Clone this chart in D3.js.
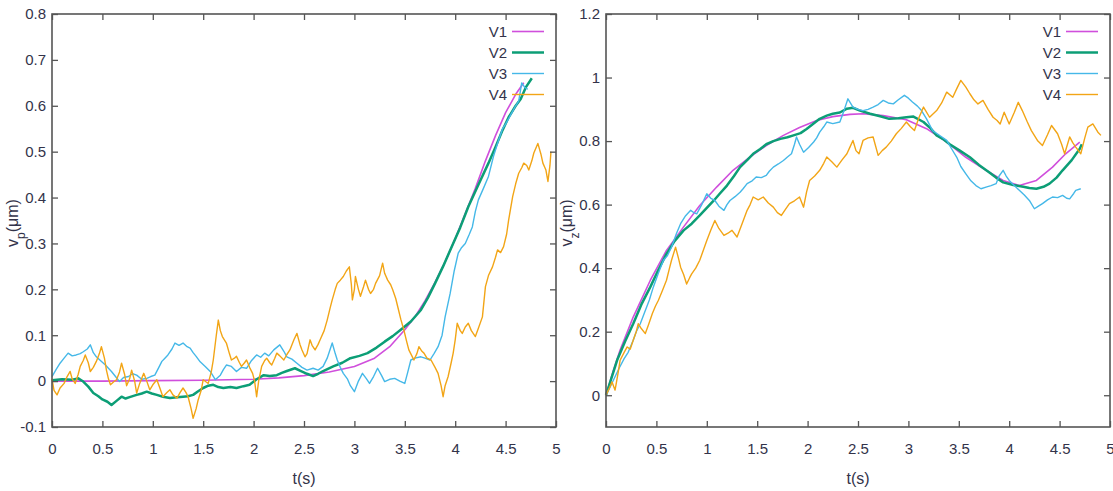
<html>
<head>
<title>vp and vz against time</title>
<style>
  body { margin: 0; background: #fff; }
  text { font-family: "Liberation Sans Narrow", "Liberation Sans", Arial, sans-serif; fill: #33334a; }
</style>
</head>
<body>
<svg></svg>
<script src="https://d3js.org/d3.v7.min.js"></script>
<script>
// ---- data, [t (s), value (um)] ----
var seriesNames = ["V1", "V2", "V3", "V4"];
var seriesColors = ["#d04fdc", "#0c9e76", "#45b8e8", "#f2a516"];
var seriesWidths = [1.6, 2.5, 1.4, 1.4];

var xTicks = [0, 0.5, 1, 1.5, 2, 2.5, 3, 3.5, 4, 4.5, 5];
var vpTicks = [-0.1, 0, 0.1, 0.2, 0.3, 0.4, 0.5, 0.6, 0.7, 0.8];
var vzTicks = [0, 0.2, 0.4, 0.6, 0.8, 1, 1.2];

var vpV1 = [[0,0],[0.5,0],[1,0.001],[1.5,0.002],[2,0.004],[2.25,0.007],[2.5,0.012],[2.75,0.02],[3,0.032],[3.2,0.05],[3.35,0.075],[3.5,0.112],[3.6,0.14],[3.7,0.175],[3.8,0.215],[3.9,0.26],[4,0.31],[4.1,0.365],[4.2,0.42],[4.3,0.48],[4.4,0.535],[4.5,0.585],[4.6,0.625],[4.68,0.65]];

var vpV2 = [[0,0.002],[0.1,0.004],[0.2,0.003],[0.26,0.006],[0.31,-0.001],[0.36,-0.012],[0.41,-0.026],[0.46,-0.033],[0.5,-0.04],[0.55,-0.045],[0.59,-0.052],[0.64,-0.043],[0.69,-0.034],[0.73,-0.038],[0.77,-0.035],[0.84,-0.03],[0.89,-0.027],[0.94,-0.023],[0.99,-0.027],[1.04,-0.03],[1.1,-0.034],[1.17,-0.037],[1.24,-0.035],[1.3,-0.034],[1.35,-0.033],[1.4,-0.03],[1.45,-0.022],[1.5,-0.015],[1.55,-0.01],[1.6,-0.008],[1.65,-0.013],[1.7,-0.015],[1.77,-0.013],[1.83,-0.015],[1.9,-0.011],[1.96,-0.008],[2.03,0.004],[2.1,0.013],[2.16,0.011],[2.23,0.013],[2.28,0.018],[2.33,0.022],[2.41,0.028],[2.47,0.022],[2.53,0.016],[2.59,0.011],[2.64,0.016],[2.69,0.022],[2.79,0.032],[2.88,0.04],[2.96,0.05],[3.05,0.055],[3.13,0.061],[3.22,0.073],[3.3,0.086],[3.38,0.098],[3.46,0.112],[3.56,0.13],[3.66,0.155],[3.73,0.182],[3.8,0.213],[3.88,0.25],[3.96,0.29],[4.05,0.335],[4.13,0.38],[4.23,0.428],[4.33,0.475],[4.4,0.51],[4.47,0.547],[4.53,0.575],[4.6,0.6],[4.65,0.615],[4.7,0.64],[4.76,0.66]];

var vpV3 = [[0,0.01],[0.04,0.025],[0.08,0.039],[0.12,0.05],[0.16,0.061],[0.2,0.055],[0.24,0.057],[0.28,0.06],[0.31,0.064],[0.35,0.07],[0.38,0.079],[0.41,0.062],[0.44,0.053],[0.48,0.045],[0.53,0.035],[0.56,0.028],[0.59,0.021],[0.63,0.01],[0.67,-0.001],[0.71,0.008],[0.76,0.01],[0.8,0.016],[0.84,0.013],[0.89,0.004],[0.94,0.006],[0.98,0.01],[1.02,0.013],[1.06,0.03],[1.09,0.043],[1.12,0.05],[1.15,0.057],[1.19,0.07],[1.22,0.083],[1.26,0.078],[1.3,0.083],[1.34,0.075],[1.37,0.072],[1.4,0.062],[1.43,0.054],[1.47,0.042],[1.52,0.032],[1.57,0.021],[1.62,0.003],[1.67,0.013],[1.7,0.025],[1.73,0.035],[1.78,0.032],[1.83,0.021],[1.88,0.03],[1.93,0.028],[1.98,0.045],[2.03,0.057],[2.07,0.052],[2.11,0.061],[2.15,0.055],[2.2,0.068],[2.26,0.079],[2.3,0.065],[2.33,0.053],[2.38,0.048],[2.43,0.039],[2.48,0.03],[2.53,0.024],[2.59,0.028],[2.64,0.024],[2.69,0.032],[2.73,0.05],[2.78,0.083],[2.81,0.06],[2.83,0.046],[2.86,0.03],[2.89,0.017],[2.93,0.005],[2.96,-0.01],[3,-0.023],[3.04,0],[3.08,0.017],[3.12,0.005],[3.15,-0.005],[3.19,0.01],[3.23,0.028],[3.27,0.012],[3.3,-0.001],[3.35,0.004],[3.4,0.006],[3.45,0],[3.5,-0.005],[3.53,0.02],[3.56,0.046],[3.6,0.05],[3.66,0.053],[3.7,0.05],[3.75,0.046],[3.79,0.06],[3.83,0.075],[3.87,0.1],[3.9,0.14],[3.95,0.191],[3.99,0.24],[4.03,0.279],[4.06,0.29],[4.1,0.3],[4.14,0.32],[4.17,0.336],[4.2,0.37],[4.23,0.395],[4.28,0.42],[4.33,0.446],[4.38,0.49],[4.43,0.525],[4.47,0.55],[4.5,0.56],[4.55,0.58],[4.6,0.6],[4.63,0.61],[4.66,0.65],[4.69,0.64],[4.72,0.636]];

var vpV4 = [[0,0.005],[0.02,-0.02],[0.05,-0.03],[0.08,-0.015],[0.12,-0.005],[0.15,0.01],[0.18,0.021],[0.2,0.005],[0.23,-0.005],[0.26,0.015],[0.28,0.032],[0.31,0.045],[0.33,0.057],[0.36,0.04],[0.38,0.021],[0.41,0.03],[0.44,0.043],[0.47,0.06],[0.49,0.075],[0.52,0.05],[0.54,0.024],[0.56,0.005],[0.58,-0.008],[0.61,-0.002],[0.64,0.003],[0.67,0.02],[0.69,0.039],[0.72,0.015],[0.74,-0.01],[0.77,0.005],[0.79,0.024],[0.82,0],[0.84,-0.026],[0.87,-0.005],[0.91,0.017],[0.94,0],[0.97,-0.019],[1,-0.008],[1.04,0.003],[1.07,-0.015],[1.1,-0.034],[1.14,-0.025],[1.17,-0.019],[1.2,-0.03],[1.24,-0.037],[1.27,-0.025],[1.3,-0.015],[1.33,-0.025],[1.35,-0.034],[1.38,-0.06],[1.4,-0.081],[1.43,-0.06],[1.45,-0.041],[1.48,-0.02],[1.5,0.003],[1.53,-0.002],[1.55,-0.005],[1.58,0.02],[1.6,0.046],[1.63,0.1],[1.65,0.133],[1.67,0.11],[1.69,0.097],[1.71,0.09],[1.73,0.083],[1.76,0.06],[1.78,0.046],[1.81,0.05],[1.83,0.054],[1.86,0.04],[1.88,0.032],[1.91,0.04],[1.93,0.046],[1.96,0.03],[1.99,0.017],[2.01,0],[2.03,-0.034],[2.05,0],[2.08,0.032],[2.11,0.045],[2.13,0.05],[2.16,0.04],[2.18,0.035],[2.21,0.05],[2.23,0.061],[2.26,0.055],[2.3,0.046],[2.33,0.058],[2.36,0.068],[2.4,0.09],[2.43,0.104],[2.46,0.08],[2.48,0.068],[2.51,0.053],[2.53,0.06],[2.56,0.09],[2.58,0.078],[2.61,0.068],[2.64,0.08],[2.66,0.09],[2.7,0.11],[2.73,0.133],[2.76,0.16],[2.78,0.177],[2.81,0.2],[2.83,0.213],[2.86,0.22],[2.89,0.228],[2.92,0.24],[2.95,0.249],[2.97,0.21],[2.98,0.177],[3,0.2],[3.01,0.228],[3.04,0.2],[3.06,0.185],[3.09,0.205],[3.11,0.22],[3.14,0.2],[3.16,0.191],[3.19,0.2],[3.21,0.213],[3.25,0.23],[3.28,0.257],[3.3,0.235],[3.33,0.22],[3.36,0.21],[3.38,0.199],[3.41,0.18],[3.43,0.162],[3.46,0.135],[3.49,0.112],[3.52,0.085],[3.54,0.068],[3.57,0.055],[3.59,0.046],[3.62,0.06],[3.64,0.075],[3.67,0.065],[3.69,0.061],[3.72,0.05],[3.76,0.046],[3.8,0.03],[3.83,0.017],[3.86,-0.01],[3.88,-0.034],[3.9,-0.01],[3.93,0.01],[3.96,0.04],[3.98,0.061],[4,0.09],[4.02,0.126],[4.05,0.11],[4.07,0.104],[4.1,0.118],[4.13,0.126],[4.16,0.11],[4.2,0.097],[4.23,0.115],[4.27,0.14],[4.3,0.206],[4.33,0.23],[4.37,0.249],[4.4,0.27],[4.42,0.286],[4.45,0.28],[4.48,0.293],[4.51,0.32],[4.53,0.351],[4.57,0.402],[4.6,0.43],[4.63,0.453],[4.66,0.465],[4.68,0.475],[4.71,0.47],[4.73,0.46],[4.76,0.48],[4.78,0.497],[4.82,0.518],[4.85,0.495],[4.87,0.475],[4.9,0.46],[4.92,0.435],[4.94,0.47],[4.95,0.5]];

var vzV1 = [[0,0],[0.07,0.075],[0.14,0.142],[0.27,0.246],[0.44,0.362],[0.6,0.456],[0.77,0.53],[0.93,0.597],[1.1,0.656],[1.26,0.708],[1.43,0.75],[1.59,0.786],[1.76,0.818],[1.92,0.843],[2.09,0.865],[2.25,0.877],[2.42,0.884],[2.55,0.886],[2.75,0.88],[2.98,0.867],[3.18,0.839],[3.38,0.797],[3.57,0.749],[3.77,0.708],[3.94,0.676],[4.1,0.66],[4.27,0.676],[4.43,0.718],[4.56,0.76],[4.7,0.797]];

var vzV2 = [[0,0],[0.05,0.05],[0.11,0.11],[0.19,0.17],[0.27,0.225],[0.35,0.285],[0.44,0.341],[0.52,0.395],[0.6,0.445],[0.68,0.485],[0.77,0.519],[0.85,0.54],[0.93,0.566],[1,0.59],[1.07,0.613],[1.13,0.635],[1.2,0.66],[1.27,0.69],[1.33,0.718],[1.4,0.74],[1.46,0.76],[1.53,0.775],[1.59,0.79],[1.66,0.8],[1.73,0.807],[1.8,0.812],[1.86,0.818],[1.93,0.825],[1.99,0.838],[2.06,0.855],[2.12,0.87],[2.19,0.88],[2.25,0.886],[2.32,0.89],[2.39,0.902],[2.45,0.905],[2.52,0.896],[2.62,0.886],[2.72,0.878],[2.81,0.87],[2.9,0.872],[2.98,0.875],[3.05,0.877],[3.15,0.86],[3.22,0.84],[3.28,0.818],[3.35,0.805],[3.41,0.79],[3.51,0.77],[3.61,0.749],[3.7,0.725],[3.8,0.702],[3.87,0.685],[3.94,0.67],[4.04,0.662],[4.14,0.656],[4.2,0.652],[4.27,0.65],[4.34,0.656],[4.4,0.666],[4.47,0.685],[4.53,0.708],[4.62,0.74],[4.7,0.776],[4.72,0.79]];

var vzV3 = [[0,0],[0.04,0.025],[0.08,0.052],[0.13,0.085],[0.18,0.115],[0.22,0.135],[0.27,0.173],[0.3,0.2],[0.34,0.225],[0.39,0.267],[0.43,0.3],[0.47,0.341],[0.52,0.385],[0.57,0.425],[0.61,0.44],[0.65,0.466],[0.7,0.51],[0.74,0.54],[0.79,0.565],[0.84,0.582],[0.87,0.575],[0.9,0.571],[0.95,0.6],[1,0.634],[1.04,0.62],[1.08,0.613],[1.12,0.595],[1.17,0.582],[1.2,0.6],[1.23,0.613],[1.28,0.625],[1.33,0.639],[1.36,0.65],[1.4,0.666],[1.45,0.675],[1.49,0.687],[1.54,0.685],[1.59,0.692],[1.62,0.705],[1.66,0.718],[1.71,0.728],[1.76,0.739],[1.8,0.75],[1.84,0.76],[1.87,0.79],[1.89,0.813],[1.92,0.79],[1.96,0.765],[2.01,0.78],[2.06,0.797],[2.09,0.81],[2.12,0.828],[2.16,0.845],[2.19,0.86],[2.25,0.855],[2.32,0.86],[2.36,0.895],[2.4,0.933],[2.45,0.907],[2.5,0.9],[2.55,0.896],[2.6,0.9],[2.65,0.907],[2.7,0.915],[2.75,0.928],[2.8,0.92],[2.85,0.917],[2.9,0.93],[2.96,0.944],[3,0.935],[3.04,0.923],[3.09,0.91],[3.13,0.896],[3.18,0.87],[3.24,0.833],[3.3,0.82],[3.38,0.802],[3.43,0.775],[3.48,0.749],[3.52,0.72],[3.57,0.697],[3.62,0.675],[3.67,0.66],[3.72,0.65],[3.77,0.655],[3.82,0.66],[3.87,0.666],[3.9,0.69],[3.94,0.708],[3.97,0.69],[4,0.676],[4.05,0.66],[4.1,0.645],[4.15,0.63],[4.2,0.613],[4.25,0.587],[4.29,0.595],[4.33,0.603],[4.38,0.615],[4.43,0.624],[4.48,0.622],[4.53,0.629],[4.57,0.62],[4.6,0.618],[4.64,0.635],[4.66,0.645],[4.71,0.65]];

var vzV4 = [[0,0],[0.03,0.02],[0.06,0.042],[0.09,0.016],[0.12,0.07],[0.14,0.11],[0.18,0.135],[0.21,0.152],[0.24,0.145],[0.27,0.173],[0.3,0.2],[0.32,0.225],[0.35,0.21],[0.39,0.194],[0.42,0.22],[0.46,0.257],[0.49,0.28],[0.52,0.299],[0.56,0.33],[0.6,0.362],[0.63,0.4],[0.65,0.425],[0.69,0.466],[0.72,0.43],[0.74,0.403],[0.77,0.38],[0.8,0.35],[0.83,0.37],[0.85,0.382],[0.89,0.4],[0.93,0.425],[0.97,0.46],[1,0.487],[1.04,0.52],[1.08,0.55],[1.12,0.525],[1.17,0.503],[1.21,0.51],[1.25,0.519],[1.3,0.498],[1.35,0.54],[1.4,0.582],[1.43,0.6],[1.46,0.624],[1.51,0.615],[1.56,0.624],[1.61,0.605],[1.66,0.592],[1.7,0.575],[1.74,0.566],[1.78,0.585],[1.82,0.603],[1.87,0.612],[1.92,0.624],[1.96,0.592],[1.99,0.64],[2.02,0.676],[2.07,0.69],[2.12,0.708],[2.16,0.73],[2.19,0.75],[2.24,0.735],[2.29,0.718],[2.34,0.74],[2.39,0.76],[2.42,0.781],[2.45,0.802],[2.48,0.77],[2.51,0.76],[2.55,0.802],[2.6,0.81],[2.65,0.813],[2.7,0.755],[2.74,0.77],[2.78,0.781],[2.83,0.8],[2.88,0.823],[2.93,0.84],[2.98,0.86],[3.02,0.845],[3.06,0.833],[3.1,0.87],[3.15,0.907],[3.21,0.875],[3.28,0.896],[3.33,0.92],[3.38,0.954],[3.44,0.938],[3.48,0.965],[3.52,0.991],[3.57,0.97],[3.61,0.949],[3.65,0.93],[3.69,0.917],[3.74,0.928],[3.79,0.9],[3.84,0.875],[3.88,0.865],[3.91,0.854],[3.95,0.891],[4,0.854],[4.05,0.89],[4.09,0.922],[4.13,0.896],[4.18,0.86],[4.22,0.833],[4.28,0.802],[4.33,0.786],[4.38,0.82],[4.42,0.849],[4.48,0.823],[4.52,0.79],[4.55,0.76],[4.6,0.813],[4.63,0.795],[4.66,0.781],[4.71,0.76],[4.75,0.81],[4.78,0.844],[4.83,0.854],[4.88,0.828],[4.91,0.818]];

// ---- canvas ----
var width = 1113;
var height = 491;

var svg = d3.select("svg")
    .attr("width", width)
    .attr("height", height);

// one panel = plot box in page pixels plus its data
function drawPanel(box, yDomain, yTicks, series, ySub) {
    var x = d3.scaleLinear().domain([0, 5]).range([box.left, box.right]);
    var y = d3.scaleLinear().domain(yDomain).range([box.bottom, box.top]);

    var g = svg.append("g");

    // curves first, the frame sits on top
    var line = d3.line()
        .x(function(d) { return x(d[0]); })
        .y(function(d) { return y(d[1]); });

    series.forEach(function(s, i) {
        g.append("path")
            .datum(s)
            .attr("d", line)
            .attr("fill", "none")
            .attr("stroke", seriesColors[i])
            .attr("stroke-width", seriesWidths[i])
            .attr("stroke-linejoin", "round");
    });

    // ticks point inwards on all four sides, like gnuplot
    var fmt = function(d) { return String(d); };
    g.append("g")
        .attr("transform", "translate(0," + box.bottom + ")")
        .call(d3.axisBottom(x).tickValues(xTicks).tickFormat(fmt).tickSize(-6).tickPadding(16));
    g.append("g")
        .attr("transform", "translate(0," + box.top + ")")
        .call(d3.axisTop(x).tickValues(xTicks).tickFormat("").tickSize(-6));
    g.append("g")
        .attr("transform", "translate(" + box.left + ",0)")
        .call(d3.axisLeft(y).tickValues(yTicks).tickFormat(fmt).tickSize(-6).tickPadding(6));
    g.append("g")
        .attr("transform", "translate(" + box.right + ",0)")
        .call(d3.axisRight(y).tickValues(yTicks).tickFormat("").tickSize(-6));

    g.selectAll(".domain").remove();
    g.selectAll(".tick line").attr("stroke", "#555").attr("stroke-width", 1.3);
    g.selectAll(".tick text")
        .style("font-family", "'Liberation Sans Narrow', sans-serif")
        .style("font-size", "15px")
        .attr("fill", "#33334a");

    g.append("rect")
        .attr("x", box.left)
        .attr("y", box.top)
        .attr("width", box.right - box.left)
        .attr("height", box.bottom - box.top)
        .attr("fill", "none")
        .attr("stroke", "#555")
        .attr("stroke-width", 1.6);

    // axis titles
    g.append("text")
        .attr("x", (box.left + box.right) / 2)
        .attr("y", 484)
        .attr("text-anchor", "middle")
        .style("font-size", "16px")
        .text("t(s)");

    var yl = g.append("text")
        .attr("transform", "translate(" + (box.left - 34) + ",223) rotate(-90)")
        .attr("text-anchor", "middle")
        .style("font-family", "'Liberation Sans', sans-serif")
        .style("font-size", "16px");
    yl.append("tspan").text("v");
    yl.append("tspan").attr("baseline-shift", "sub").style("font-size", "12px").text(ySub);
    yl.append("tspan").text("(\u03bcm)");

    // legend, top right inside the box
    var legend = g.append("g");
    seriesNames.forEach(function(name, i) {
        var ly = box.top + 17.5 + i * 21;
        legend.append("text")
            .attr("x", box.right - 49)
            .attr("y", ly)
            .attr("dy", "0.35em")
            .attr("text-anchor", "end")
            .style("font-size", "15px")
            .text(name);
        legend.append("line")
            .attr("x1", box.right - 44)
            .attr("x2", box.right - 12)
            .attr("y1", ly)
            .attr("y2", ly)
            .attr("stroke", seriesColors[i])
            .attr("stroke-width", seriesWidths[i]);
    });
}

drawPanel({left: 52, right: 556, top: 14, bottom: 427}, [-0.1, 0.8], vpTicks,
    [vpV1, vpV2, vpV3, vpV4], "p");
drawPanel({left: 606, right: 1110, top: 14, bottom: 427}, [-0.1, 1.2], vzTicks,
    [vzV1, vzV2, vzV3, vzV4], "z");
</script>
</body>
</html>
